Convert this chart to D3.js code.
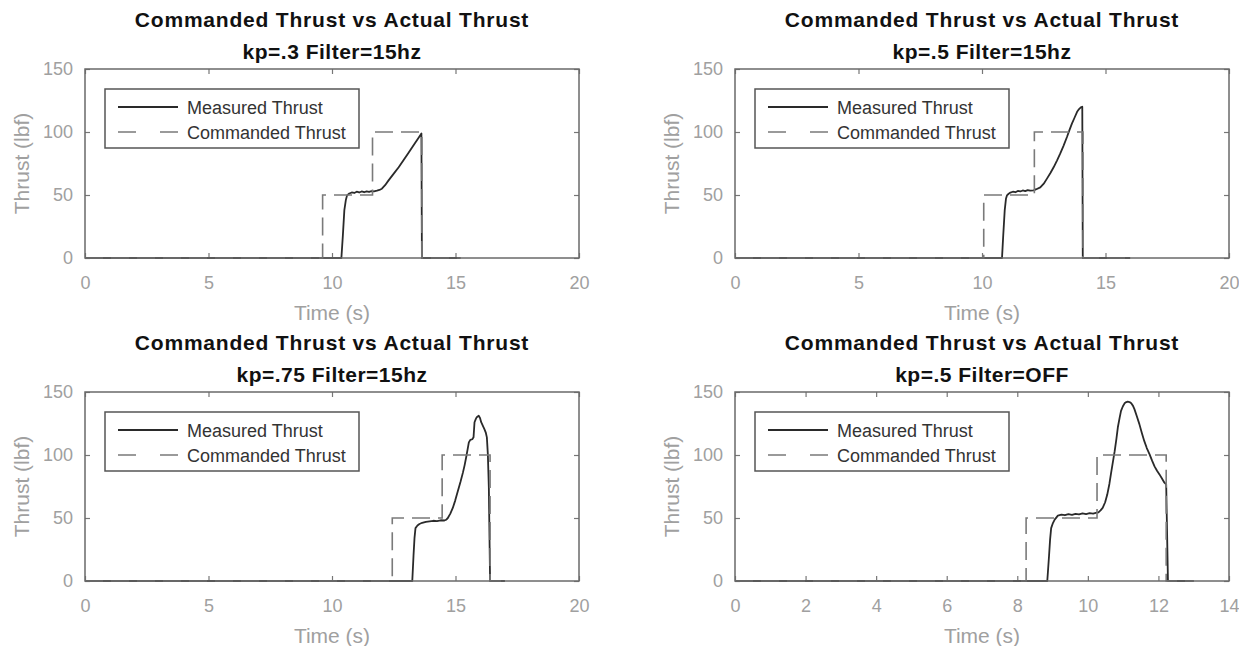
<!DOCTYPE html>
<html>
<head>
<meta charset="utf-8">
<script src="https://cdn.jsdelivr.net/npm/d3@7"></script>
<style>
body { margin: 0; background: #fff; }
text { font-family: "Liberation Sans", Arial, sans-serif; }
</style>
</head>
<body>
<script>
// titles and axis text
var titleText = "Commanded Thrust vs Actual Thrust";
var subtitles = ["kp=.3 Filter=15hz", "kp=.5 Filter=15hz", "kp=.75 Filter=15hz", "kp=.5 Filter=OFF"];
var legendLabels = ["Measured Thrust", "Commanded Thrust"];
var xMaxes = [20, 20, 20, 14];
var xTicks20 = [0, 5, 10, 15, 20];
var xTicks14 = [0, 2, 4, 6, 8, 10, 12, 14];
var yTicks = [0, 50, 100, 150];

// commanded thrust steps [time s, thrust lbf]
var commanded1 = [[0,0],[9.62,0],[9.62,50],[11.64,50],[11.64,100],[13.64,100],[13.64,0],[15.2,0]];
var commanded2 = [[0,0],[10.07,0],[10.07,50],[12.12,50],[12.12,100],[14.09,100],[14.09,0],[16,0]];
var commanded3 = [[0,0],[12.44,0],[12.44,50],[14.46,50],[14.46,100],[16.4,100],[16.4,0],[17,0]];
var commanded4 = [[0,0],[8.25,0],[8.25,50],[10.26,50],[10.26,100],[12.22,100],[12.22,0],[13,0]];

// measured thrust
var measured1 = [[0,0],[10.38,0],[10.44,18],[10.5,38],[10.56,46],[10.61,49.7],[10.7,51.2],[10.8,52],[10.9,51.6],
  [11.0,52.6],[11.1,52],[11.2,52.8],[11.3,52.2],[11.4,52.9],[11.5,52.4],[11.6,53],[11.7,52.8],[11.82,53.4],
  [11.92,54],[12.02,55],[12.15,57.8],[12.29,61.6],[12.5,67],[12.7,72],[12.9,77.8],[13.1,83.6],[13.37,91.5],
  [13.5,95.3],[13.62,98.8],[13.64,0],[15.2,0]];
var measured2 = [[0,0],[10.81,0],[10.86,18],[10.92,38],[10.97,47],[11.01,49.7],[11.08,51],[11.15,51.9],[11.25,52.6],
  [11.35,52.2],[11.45,53.2],[11.55,52.8],[11.65,53.6],[11.75,53.1],[11.85,53.9],[11.95,53.4],[12.09,53.7],[12.2,54.6],
  [12.36,56],[12.5,59],[12.63,63],[12.77,67.5],[12.9,72],[13.04,77.5],[13.17,83],[13.3,89],[13.44,96],[13.54,101.5],
  [13.64,106.6],[13.75,111.5],[13.85,116],[13.93,118.2],[14.0,119.5],[14.06,120],[14.08,0],[16,0]];
var measured3 = [[0,0],[13.25,0],[13.3,20],[13.34,34],[13.38,42],[13.46,44],[13.54,45.2],[13.65,46.2],[13.8,47],
  [13.95,47.4],[14.1,47.8],[14.25,47.6],[14.4,48.2],[14.55,48],[14.62,48.6],[14.69,50],[14.79,53.5],[14.89,58],
  [14.99,64],[15.09,71],[15.2,78.5],[15.3,86],[15.37,92],[15.43,98],[15.49,104.5],[15.54,110],[15.6,112],[15.68,112.5],
  [15.73,114],[15.75,120],[15.77,126],[15.82,128.5],[15.86,130],[15.94,131.2],[15.99,129.5],[16.04,126],[16.1,123.5],
  [16.17,120.5],[16.23,117.5],[16.27,114],[16.31,100.5],[16.35,74],[16.4,0],[17,0]];
var measured4 = [[0,0],[8.85,0],[8.9,20],[8.93,33],[8.96,42],[9.01,46],[9.06,48.7],[9.15,51.9],[9.25,52.6],[9.35,52.2],
  [9.45,53],[9.55,52.5],[9.65,53.3],[9.75,52.8],[9.85,53.6],[9.95,53.1],[10.05,53.8],[10.15,53.5],[10.25,54.2],[10.3,54.5],
  [10.36,56],[10.42,58],[10.49,62.5],[10.55,68.6],[10.61,77],[10.66,86],[10.71,94.5],[10.76,103],[10.81,113],[10.85,122],
  [10.9,129.5],[10.94,135],[10.99,138.5],[11.04,141],[11.09,142],[11.13,142.3],[11.18,142],[11.23,141],[11.28,139],
  [11.32,136.4],[11.39,130.5],[11.46,124.5],[11.53,117.5],[11.6,111],[11.67,105.5],[11.75,100.5],[11.82,95.5],[11.89,91],
  [11.96,87.5],[12.03,84.6],[12.1,81.3],[12.17,78],[12.22,76.6],[12.27,0],[13,0]];

var measuredAll = [measured1, measured2, measured3, measured4];
var commandedAll = [commanded1, commanded2, commanded3, commanded4];

var width = 1239, height = 646;
var plotW = 494, plotH = 189;
// top-left corner of each plot box
var origins = [[85, 69], [735, 69], [85, 392], [735, 392]];

var svg = d3.select("body").append("svg")
  .attr("width", width)
  .attr("height", height);

subtitles.forEach(function(sub, i) {
  var g = svg.append("g")
    .attr("transform", "translate(" + origins[i][0] + "," + origins[i][1] + ")");

  var x = d3.scaleLinear().domain([0, xMaxes[i]]).range([0, plotW]);
  var y = d3.scaleLinear().domain([0, 150]).range([plotH, 0]);
  var xt = xMaxes[i] == 14 ? xTicks14 : xTicks20;

  // titles
  g.append("text")
    .attr("x", plotW / 2).attr("y", -42)
    .attr("text-anchor", "middle")
    .style("font-size", "21px").style("font-weight", "bold")
    .style("letter-spacing", "0.8px")
    .attr("fill", "#111")
    .text(titleText);
  g.append("text")
    .attr("x", plotW / 2).attr("y", -10)
    .attr("text-anchor", "middle")
    .style("font-size", "21px").style("font-weight", "bold")
    .style("letter-spacing", "0.5px")
    .attr("fill", "#111")
    .text(sub);

  // axes, MATLAB style ticks pointing inwards
  var bottom = g.append("g").attr("transform", "translate(0," + plotH + ")")
    .call(d3.axisBottom(x).tickValues(xt).tickSizeInner(-5).tickSizeOuter(0).tickPadding(18));
  var top = g.append("g")
    .call(d3.axisTop(x).tickValues(xt).tickSizeInner(-5).tickSizeOuter(0).tickFormat(""));
  var left = g.append("g")
    .call(d3.axisLeft(y).tickValues(yTicks).tickSizeInner(-5).tickSizeOuter(0).tickPadding(12));
  var right = g.append("g").attr("transform", "translate(" + plotW + ",0)")
    .call(d3.axisRight(y).tickValues(yTicks).tickSizeInner(-5).tickSizeOuter(0).tickFormat(""));

  [bottom, top, left, right].forEach(function(a) {
    a.select(".domain").remove();
    a.selectAll("line").attr("stroke", "#777").attr("stroke-width", 1.2);
    a.selectAll("text")
      .style("font-size", "18px")
      .attr("fill", "#a0a0a0");
  });

  // data lines
  var line = d3.line()
    .x(function(d) { return x(d[0]); })
    .y(function(d) { return y(d[1]); });

  g.append("path")
    .datum(measuredAll[i])
    .attr("d", line)
    .attr("fill", "none")
    .attr("stroke", "#2a2a2a")
    .attr("stroke-width", 1.8)
    .attr("stroke-linejoin", "round");

  g.append("path")
    .datum(commandedAll[i])
    .attr("d", line)
    .attr("fill", "none")
    .attr("stroke", "#7a7a7a")
    .attr("stroke-width", 1.6)
    .attr("stroke-dasharray", "18,8");

  // box
  g.append("rect")
    .attr("width", plotW).attr("height", plotH)
    .attr("fill", "none")
    .attr("stroke", "#6a6a6a")
    .attr("stroke-width", 1.5);

  // axis labels
  g.append("text")
    .attr("x", plotW / 2).attr("y", plotH + 62)
    .attr("text-anchor", "middle")
    .style("font-size", "21px")
    .attr("fill", "#a0a0a0")
    .text("Time (s)");
  g.append("text")
    .attr("transform", "translate(-56," + (plotH / 2) + ") rotate(-90)")
    .attr("text-anchor", "middle")
    .style("font-size", "21px")
    .attr("fill", "#a0a0a0")
    .text("Thrust (lbf)");

  // legend
  var lg = g.append("g").attr("transform", "translate(20,20)");
  lg.append("rect")
    .attr("width", 254).attr("height", 59)
    .attr("fill", "#fff")
    .attr("stroke", "#555")
    .attr("stroke-width", 1.5);
  legendLabels.forEach(function(lab, j) {
    lg.append("line")
      .attr("x1", 13).attr("x2", 73)
      .attr("y1", 18 + j * 25).attr("y2", 18 + j * 25)
      .attr("stroke", j == 0 ? "#2a2a2a" : "#7a7a7a")
      .attr("stroke-width", j == 0 ? 1.8 : 1.6)
      .attr("stroke-dasharray", j == 0 ? null : "18,24");
    lg.append("text")
      .attr("x", 82).attr("y", 25 + j * 25)
      .style("font-size", "18px")
      .attr("fill", "#333")
      .text(lab);
  });
});
</script>
</body>
</html>
